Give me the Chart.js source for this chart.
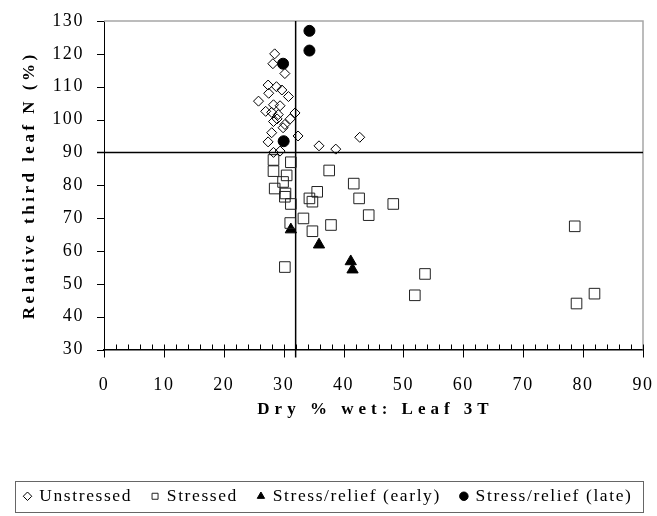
<!DOCTYPE html>
<html>
<head>
<meta charset="utf-8">
<script src="https://cdn.jsdelivr.net/npm/chart.js@4.4.1/dist/chart.umd.min.js"></script>
<style>
  html, body { margin: 0; padding: 0; background: #fff; }
</style>
</head>
<body>
<canvas id="grafico" width="657" height="516"></canvas>
<script>
// ------------------------------------------------
// Valores: [dry % wet, relative third leaf N]
// ------------------------------------------------
const unstressed = [
  [28.5, 120], [28.2, 117], [30.2, 114], [27.4, 110.5], [28.8, 110], [29.7, 109],
  [27.5, 108], [30.8, 107], [25.8, 105.6], [28.3, 104.5], [29.4, 104.2], [27.0, 102.5],
  [28.0, 102.2], [31.9, 102], [29.1, 101.5], [28.9, 100.2], [31.1, 100.2], [28.3, 99.4],
  [30.2, 98.5], [29.9, 97.5], [28.0, 96], [32.4, 95], [27.4, 93.2], [28.3, 90],
  [29.4, 90.4], [35.9, 92], [38.7, 91], [42.7, 94.6]
];
const stressed = [
  [28.3, 87.7], [31.2, 87], [28.3, 84.3], [37.6, 84.5], [30.5, 83], [29.9, 81],
  [41.7, 80.5], [28.5, 79], [30.3, 77.5], [30.2, 76.5], [34.3, 76], [35.6, 78],
  [34.8, 75], [42.6, 76], [48.3, 74.3], [31.2, 74.3], [44.2, 70.9], [33.3, 69.9],
  [37.9, 67.9], [31.1, 68.5], [34.8, 66], [30.2, 55.1], [53.6, 53], [51.9, 46.5],
  [78.6, 67.5], [81.9, 47], [78.9, 44]
];
const reliefEarly = [[31.2, 66.5], [35.9, 61.9], [41.2, 56.8], [41.5, 54.3]];
const reliefLate  = [[34.3, 127], [34.3, 121], [29.9, 117], [30.0, 93.4]];

const seriesNames = ['Unstressed', 'Stressed', 'Stress/relief (early)', 'Stress/relief (late)'];
const xTicks = [0, 10, 20, 30, 40, 50, 60, 70, 80, 90];
const yTicks = [30, 40, 50, 60, 70, 80, 90, 100, 110, 120, 130];
const xMinorStep = 2;
const cutoffX = 32;
const cutoffY = 90;
const xTitle = 'Dry % wet: Leaf 3T';
const yTitle = 'Relative third leaf N (%)';

const SERIF = '"Liberation Serif", "Times New Roman", serif';
const pts = arr => arr.map(([x, y]) => ({ x, y }));

// espaçamento entre letras (o original é "esticado")
const espacamento = {
  id: 'espacamento',
  beforeLayout(chart) { chart.ctx.letterSpacing = '1.6px'; },
  beforeDraw(chart)   { chart.ctx.letterSpacing = '1.6px'; }
};

// ------------------------------------------------
// Moldura, marcas dos eixos, linhas de corte, títulos e caixa da legenda
// ------------------------------------------------
const marcas = {
  id: 'marcas',
  beforeDatasetsDraw(chart) {
    const { ctx, chartArea: a, scales: { x, y } } = chart;
    ctx.save();
    ctx.strokeStyle = '#a6a6a6';
    ctx.lineWidth = 1.5;
    ctx.beginPath();
    ctx.moveTo(a.left, a.top); ctx.lineTo(a.right, a.top); ctx.lineTo(a.right, a.bottom);
    ctx.stroke();

    ctx.strokeStyle = '#000';
    ctx.lineWidth = 1;
    ctx.beginPath();
    for (let v = x.min; v <= x.max; v += xMinorStep) {
      const px = Math.round(x.getPixelForValue(v)) + 0.5;
      const major = xTicks.includes(v);
      ctx.moveTo(px, a.bottom - 5);
      ctx.lineTo(px, a.bottom + (major ? 8 : 0));
    }
    yTicks.forEach(v => {
      const py = Math.round(y.getPixelForValue(v)) + 0.5;
      ctx.moveTo(a.left - 7, py);
      ctx.lineTo(a.left, py);
    });
    ctx.stroke();

    ctx.lineWidth = 1.5;
    ctx.beginPath();
    const cx = x.getPixelForValue(cutoffX);
    const cy = y.getPixelForValue(cutoffY);
    ctx.moveTo(cx, a.top); ctx.lineTo(cx, a.bottom + 8);
    ctx.moveTo(a.left - 7, cy); ctx.lineTo(a.right, cy);
    ctx.stroke();
    ctx.restore();
  },
  afterDraw(chart) {
    const { ctx, chartArea: a } = chart;
    ctx.save();
    ctx.fillStyle = '#000';
    ctx.font = 'bold 17px ' + SERIF;
    ctx.textAlign = 'center';
    ctx.textBaseline = 'middle';
    ctx.letterSpacing = '5px';
    ctx.fillText(xTitle, (a.left + a.right) / 2 + 2, 410);
    ctx.letterSpacing = '3.5px';
    ctx.translate(30, (a.top + a.bottom) / 2);
    ctx.rotate(-Math.PI / 2);
    ctx.fillText(yTitle, 0, 0);
    ctx.restore();

    const hb = chart.legend.legendHitBoxes;
    if (!hb || !hb.length) return;
    const l = Math.min(...hb.map(h => h.left)) - 10;
    const r = Math.max(...hb.map(h => h.left + h.width)) + 10;
    const t = hb[0].top - 6.5;
    const b = hb[0].top + hb[0].height + 6.5;
    ctx.save();
    ctx.strokeStyle = '#666';
    ctx.lineWidth = 1;
    ctx.strokeRect(Math.round(l) + 0.5, Math.round(t) + 0.5, Math.round(r - l), Math.round(b - t));
    ctx.restore();
  }
};

const eixoX = {
  type: 'linear', min: 0, max: 90,
  afterBuildTicks: s => { s.ticks = xTicks.map(v => ({ value: v })); },
  afterFit: s => { s.height = 118; s.paddingLeft = 0; s.paddingRight = 14; },
  grid: { display: false, drawTicks: false },
  border: { display: true, color: '#000', width: 1.5 },
  ticks: { color: '#000', font: { family: SERIF, size: 18 }, padding: 25, maxRotation: 0, autoSkip: false }
};
const eixoY = {
  type: 'linear', min: 30, max: 130,
  afterBuildTicks: s => { s.ticks = yTicks.map(v => ({ value: v })); },
  afterFit: s => { s.width = 104; s.paddingTop = 0; s.paddingBottom = 0; },
  grid: { display: false, drawTicks: false },
  border: { display: true, color: '#000', width: 1 },
  ticks: { color: '#000', font: { family: SERIF, size: 18 }, padding: 20, autoSkip: false }
};

new Chart(document.getElementById('grafico'), {
  type: 'scatter',
  data: {
    datasets: [
      { label: seriesNames[0], data: pts(unstressed), pointStyle: 'rectRot', radius: 5,
        borderColor: '#000', backgroundColor: 'rgba(255,255,255,0)', borderWidth: 1 },
      { label: seriesNames[1], data: pts(stressed), pointStyle: 'rect', radius: 7.5,
        borderColor: '#222', backgroundColor: 'rgba(255,255,255,0)', borderWidth: 1 },
      { label: seriesNames[2], data: pts(reliefEarly), pointStyle: 'triangle', radius: 6.5,
        borderColor: '#000', backgroundColor: '#000', borderWidth: 1 },
      { label: seriesNames[3], data: pts(reliefLate), pointStyle: 'circle', radius: 5.5,
        borderColor: '#000', backgroundColor: '#000', borderWidth: 1 }
    ]
  },
  options: {
    responsive: false,
    animation: false,
    devicePixelRatio: 1,
    layout: { padding: { left: 0, right: 0, top: 21, bottom: 1 } },
    plugins: {
      legend: {
        position: 'bottom',
        labels: {
          usePointStyle: true, boxWidth: 6, boxHeight: 6, padding: 20, color: '#000',
          font: { family: SERIF, size: 17.5 }
        }
      },
      tooltip: { enabled: false }
    },
    scales: { x: eixoX, y: eixoY }
  },
  plugins: [espacamento, marcas]
});
</script>
</body>
</html>
